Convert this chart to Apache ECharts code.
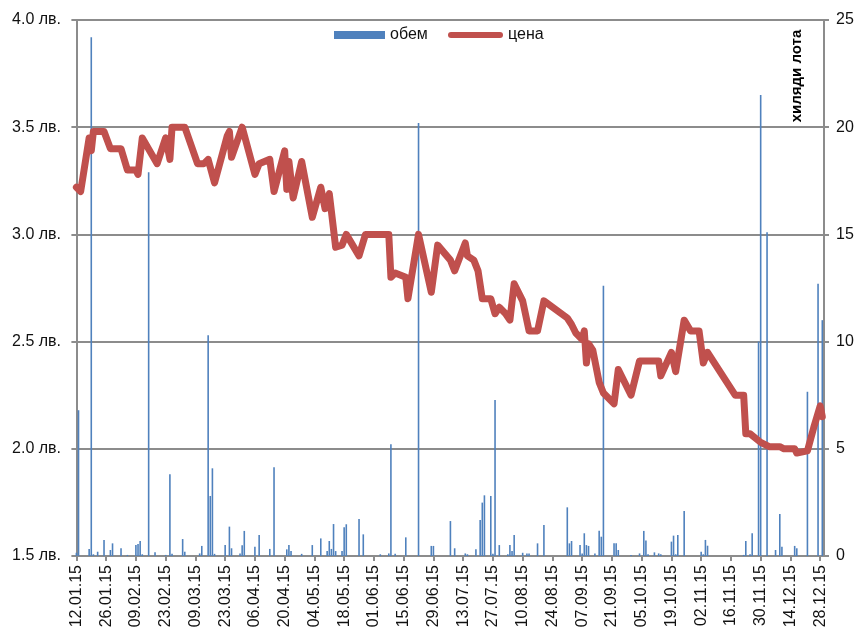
<!DOCTYPE html>
<html>
<head>
<meta charset="utf-8">
<script src="https://cdn.jsdelivr.net/npm/echarts@6/dist/echarts.min.js"></script>
<style>
html,body{margin:0;padding:0;background:#fff;}
#chart{width:858px;height:636px;}
</style>
</head>
<body>
<div id="chart"></div>
<script>
// ---- data (dates dd.mm of 2015) ----
const tickLabels = ['12.01.15','26.01.15','09.02.15','23.02.15','09.03.15','23.03.15','06.04.15','20.04.15',
  '04.05.15','18.05.15','01.06.15','15.06.15','29.06.15','13.07.15','27.07.15','10.08.15','24.08.15',
  '07.09.15','21.09.15','05.10.15','19.10.15','02.11.15','16.11.15','30.11.15','14.12.15','28.12.15'];

const priceDates = ['12.01','14.01','18.01','19.01','20.01','25.01','28.01','02.02','05.02','09.02','10.02','12.02',
  '19.02','23.02','25.02','26.02','04.03','10.03','13.03','15.03','18.03','24.03','25.03','26.03','31.03',
  '06.04','08.04','13.04','15.04','20.04','21.04','22.04','24.04','28.04','03.05','07.05','09.05','11.05',
  '14.05','17.05','19.05','25.05','28.05','08.06','09.06','11.06','16.06','17.06','22.06','28.06','01.07',
  '07.07','09.07','14.07','15.07','18.07','20.07','22.07','26.07','28.07','30.07','02.08','04.08','06.08',
  '10.08','13.08','17.08','20.08','31.08','02.09','04.09','07.09','08.09','09.09','10.09','12.09','15.09',
  '17.09','22.09','24.09','30.09','04.10','13.10','14.10','19.10','21.10','25.10','28.10','01.11','03.11',
  '05.11','18.11','22.11','23.11','25.11','30.11','04.12','09.12','11.12','16.12','17.12','22.12','25.12',
  '28.12','29.12'];
const prices = [3.22,3.20,3.45,3.39,3.48,3.48,3.40,3.40,3.30,3.30,3.28,3.45,
  3.33,3.45,3.35,3.50,3.50,3.33,3.33,3.35,3.24,3.46,3.48,3.36,3.50,
  3.28,3.33,3.35,3.20,3.39,3.21,3.34,3.17,3.34,3.08,3.22,3.12,3.19,
  2.94,2.95,3.00,2.90,3.00,3.00,2.80,2.82,2.80,2.70,3.00,2.73,2.95,
  2.88,2.83,2.96,2.90,2.88,2.83,2.70,2.70,2.63,2.66,2.63,2.60,2.77,
  2.69,2.55,2.55,2.69,2.61,2.58,2.54,2.51,2.55,2.40,2.49,2.46,2.31,
  2.26,2.21,2.37,2.25,2.41,2.41,2.34,2.45,2.36,2.60,2.55,2.55,2.40,
  2.45,2.25,2.25,2.07,2.07,2.03,2.01,2.01,2.00,2.00,1.98,1.99,2.10,
  2.20,2.15];

const volumeDates = ['12.01','13.01','18.01','19.01','20.01','22.01','25.01','28.01','29.01','02.02','05.02','09.02',
  '10.02','11.02','12.02','15.02','18.02','23.02','25.02','26.02','03.03','04.03','11.03','12.03','15.03',
  '16.03','17.03','18.03','23.03','25.03','26.03','30.03','31.03','01.04','06.04','08.04','13.04','15.04',
  '21.04','22.04','23.04','28.04','03.05','07.05','10.05','11.05','12.05','13.05','14.05','17.05','18.05',
  '19.05','25.05','27.05','04.06','08.06','09.06','11.06','16.06','22.06','28.06','29.06','07.07','09.07',
  '14.07','15.07','19.07','21.07','22.07','23.07','26.07','27.07','28.07','30.07','03.08','04.08','05.08',
  '06.08','10.08','12.08','13.08','17.08','20.08','31.08','01.09','02.09','06.09','07.09','08.09','09.09',
  '10.09','13.09','15.09','16.09','17.09','22.09','23.09','24.09','30.09','04.10','06.10','07.10','08.10',
  '11.10','13.10','14.10','19.10','20.10','21.10','22.10','25.10','02.11','03.11','04.11','05.11','22.11',
  '23.11','25.11','26.11','29.11','30.11','03.12','07.12','09.12','10.12','16.12','17.12','22.12','27.12',
  '29.12'];
const volumes = [0.15,6.8,0.33,24.2,0.08,0.2,0.75,0.28,0.59,0.36,0.05,0.51,
  0.56,0.70,0.08,17.9,0.17,0.05,3.81,0.1,0.79,0.2,0.12,0.47,10.3,
  2.8,4.09,0.1,0.51,1.37,0.36,0.12,0.5,1.17,0.43,0.98,0.33,4.14,
  0.31,0.51,0.23,0.1,0.51,0.82,0.23,0.70,0.33,1.49,0.23,0.23,1.34,
  1.48,1.73,1.01,0.08,0.12,5.21,0.1,0.87,20.2,0.47,0.47,1.63,0.36,
  0.12,0.08,0.31,1.68,2.49,2.83,2.80,0.1,7.28,0.51,0.08,0.51,0.23,
  0.98,0.15,0.12,0.12,0.59,1.45,2.27,0.59,0.70,0.51,0.12,1.06,0.51,
  0.47,0.12,1.18,0.9,12.6,0.59,0.59,0.28,0.05,0.12,1.17,0.72,0.08,
  0.17,0.12,0.08,0.67,0.95,0.08,0.98,2.10,0.2,0.08,0.75,0.48,0.05,
  0.70,0.08,1.06,10.0,21.5,15.1,0.28,1.96,0.43,0.47,0.36,7.66,12.7,
  11.0];

// ---- helpers ----
function dayIndex(s) {
  const p = s.split('.');
  return (Date.UTC(2015, +p[1] - 1, +p[0]) - Date.UTC(2015, 0, 12)) / 86400000;
}
const tickValues = tickLabels.map(dayIndex);
const tickMap = {};
tickValues.forEach((v, i) => { tickMap[v] = tickLabels[i]; });

const priceData = priceDates.map((d, i) => [dayIndex(d), prices[i]]);
const volumeData = volumeDates.map((d, i) => [dayIndex(d), volumes[i]]);

const FONT = 'Liberation Sans, Arial, sans-serif';
const GRID_COLOR = '#8c8c8c';

const chart = echarts.init(document.getElementById('chart'), null, {renderer: 'canvas'});
chart.setOption({
  animation: false,
  backgroundColor: '#ffffff',
  textStyle: {fontFamily: FONT},
  grid: {left: 73, right: 34, top: 20, bottom: 80, containLabel: false},
  legend: [
    {
      data: ['обем'], left: 334, top: 27, padding: 0,
      itemWidth: 51, itemHeight: 8, icon: 'rect', itemGap: 5,
      textStyle: {fontSize: 16, color: '#111', fontFamily: FONT}
    },
    {
      data: ['цена'], left: 448, top: 27, padding: 0,
      itemWidth: 55, itemHeight: 6,
      icon: 'path://M3,0 L52,0 A3,3 0 0 1 52,6 L3,6 A3,3 0 0 1 3,0 Z',
      textStyle: {fontSize: 16, color: '#111', fontFamily: FONT}
    }
  ],
  xAxis: {
    type: 'value',
    min: -1.6,
    max: 351.8,
    splitLine: {show: false},
    axisLine: {show: true, onZero: false, lineStyle: {color: GRID_COLOR, width: 2}},
    axisTick: {show: true, length: 5, customValues: tickValues, lineStyle: {color: GRID_COLOR, width: 2}},
    axisLabel: {
      customValues: tickValues,
      rotate: 90,
      margin: 9,
      fontSize: 16,
      color: '#111',
      fontFamily: FONT,
      formatter: v => tickMap[v] || ''
    }
  },
  yAxis: [
    {
      type: 'value', min: 1.5, max: 4.0, interval: 0.5, position: 'left',
      axisLine: {show: true, lineStyle: {color: GRID_COLOR, width: 2}},
      axisTick: {show: true, length: 5, lineStyle: {color: GRID_COLOR, width: 2}},
      splitLine: {show: true, lineStyle: {color: GRID_COLOR, width: 2}},
      axisLabel: {
        margin: 12, fontSize: 16, color: '#111', fontFamily: FONT,
        formatter: v => v.toFixed(1) + ' лв.'
      }
    },
    {
      type: 'value', min: 0, max: 25, interval: 5, position: 'right',
      axisLine: {show: true, lineStyle: {color: GRID_COLOR, width: 2}},
      axisTick: {show: true, length: 5, lineStyle: {color: GRID_COLOR, width: 2}},
      splitLine: {show: false},
      axisLabel: {margin: 12, fontSize: 16, color: '#111', fontFamily: FONT}
    }
  ],
  graphic: [
    {
      type: 'text', x: 797, y: 76, rotation: Math.PI / 2,
      style: {
        text: 'хиляди лота', font: 'bold 15px ' + FONT, fill: '#000',
        textAlign: 'center', textVerticalAlign: 'middle'
      }
    }
  ],
  series: [
    {
      name: 'обем', type: 'bar', yAxisIndex: 1,
      data: volumeData, barWidth: 1.6,
      itemStyle: {color: '#4F81BD'},
      z: 2
    },
    {
      name: 'цена', type: 'line', yAxisIndex: 0,
      data: priceData, showSymbol: false, symbol: 'none',
      lineStyle: {color: '#C0504D', width: 7, cap: 'round', join: 'round'},
      itemStyle: {color: '#C0504D'},
      z: 3
    }
  ]
});
</script>
</body>
</html>
